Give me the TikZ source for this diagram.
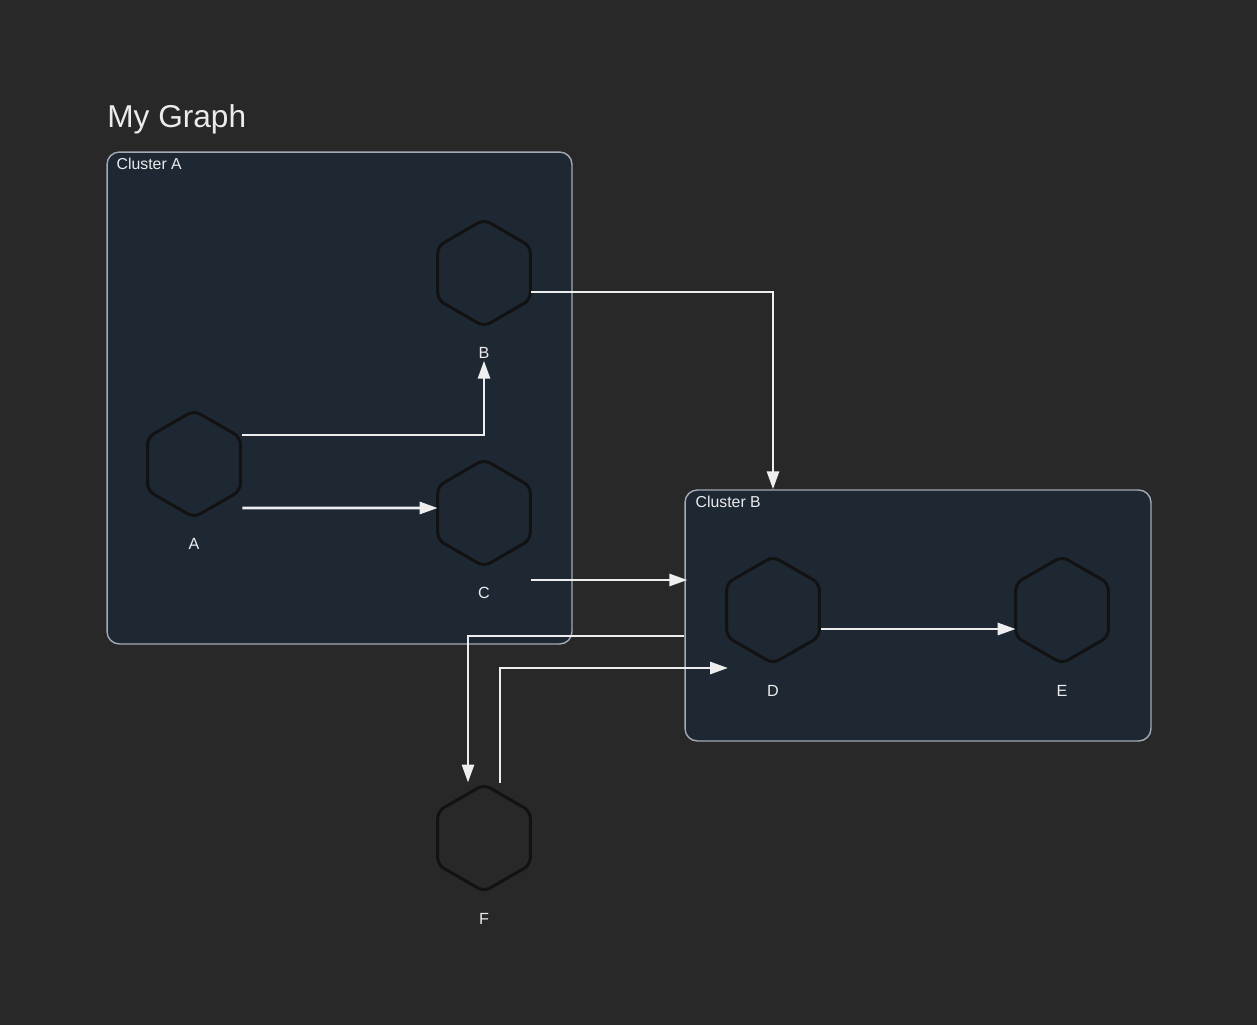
\documentclass[tikz,border=0pt]{standalone}
\usepackage{fontspec}
\setmainfont{Liberation Sans}
\usetikzlibrary{shapes.geometric,arrows.meta}
\definecolor{bgcol}{HTML}{282828}
\definecolor{clfill}{HTML}{1D2833}
\definecolor{clline}{HTML}{A3ABB5}
\definecolor{hexline}{HTML}{121212}
\definecolor{edgecol}{HTML}{EEEEEE}
\tikzset{
  hexnode/.style={regular polygon,regular polygon sides=6,regular polygon rotate=30,
    minimum size=2.14cm,inner sep=0pt,outer sep=0pt,draw=hexline,line width=1.7pt,rounded corners=4pt},
  cluster/.style={draw=clline,fill=clfill,line width=0.8pt,rounded corners=7pt,inner sep=0pt},
  cltext/.style={anchor=north west,text=white!92!black,font=\fontsize{9}{10}\selectfont,inner sep=0pt},
  lab/.style={text=white!92!black,font=\fontsize{9.2}{10}\selectfont,inner sep=1pt},
  edge/.style={->,draw=edgecol,line width=1.6pt}
}
\begin{document}
\begin{tikzpicture}[x=0.02cm,y=-0.02cm,>={Triangle[length=0.36cm,width=0.24cm]}]
      \fill[bgcol] (0,0) rectangle (1257,1025);
      \node[anchor=base west,text=white!92!black,font=\fontsize{18}{20}\selectfont,inner sep=0pt] (title) at (107,127) {My Graph};
      \node[cluster,minimum width=9.3cm,minimum height=9.84cm] (clA) at (339.5,398) {};
      \node[cluster,minimum width=9.32cm,minimum height=5.02cm] (clB) at (918,615.5) {};
      \node[cltext] (clAtext) at ([xshift=0.2cm,yshift=-0.12cm]clA.north west) {Cluster A};
      \node[cltext] (clBtext) at ([xshift=0.22cm,yshift=-0.12cm]clB.north west) {Cluster B};
      \node[hexnode] (A) at (194,464) {};
      \node[hexnode] (B) at (484,273) {};
      \node[hexnode] (C) at (484,513) {};
      \node[hexnode] (D) at (773,610) {};
      \node[hexnode] (E) at (1062,610) {};
      \node[hexnode] (F) at (484,838) {};
      \node[lab] (Alab) at (194,544) {A};
      \node[lab] (Blab) at (484,353) {B};
      \node[lab] (Clab) at (484,593) {C};
      \node[lab] (Dlab) at (773,691) {D};
      \node[lab] (Elab) at (1062,691) {E};
      \node[lab] (Flab) at (484,919) {F};
      \draw[edge] ([xshift=0.04cm,yshift=0.58cm]A.east) -| (Blab.south);
      \draw[edge] ([xshift=0.04cm,yshift=-0.88cm]A.east) -- ([yshift=0.1cm]C.west);
      \draw[edge] ([xshift=0.02cm,yshift=-0.38cm]B.east) -| (clB.north -| D.north);
      \draw[edge] ([xshift=0.02cm,yshift=-1.34cm]C.east) coordinate (c1) -- (c1 -| clB.west) coordinate (c2) -- ([xshift=0.06cm]c2);
      \draw[edge] ([xshift=0.04cm,yshift=-0.38cm]D.east) -- ([yshift=-0.38cm]E.west);
      \coordinate (d1) at ([yshift=-0.52cm]D.west);
      \draw[edge] (d1 -| clB.west) -| ([xshift=-0.32cm,yshift=0.04cm]F.north);
      \draw[edge] ([xshift=0.32cm,yshift=0.04cm]F.north) |- ([xshift=-0.9cm,yshift=-1.16cm]D.center);
\end{tikzpicture}
\end{document}
